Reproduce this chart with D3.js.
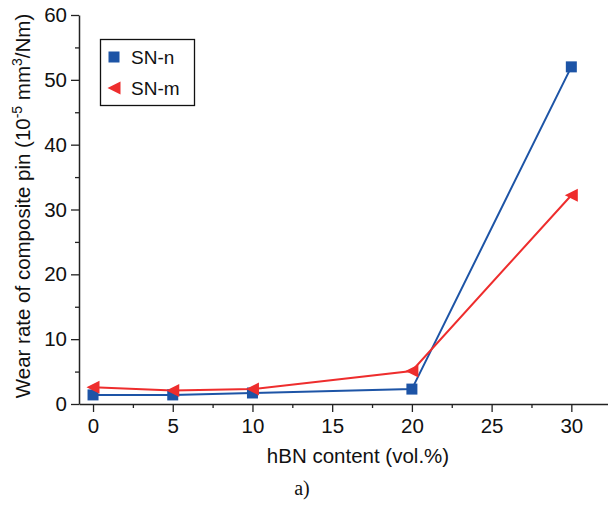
<!DOCTYPE html>
<html>
<head>
<meta charset="utf-8">
<script src="https://cdn.jsdelivr.net/npm/d3@7"></script>
<style>
  body { margin: 0; background: #fff; }
  svg { display: block; font-family: 'Liberation Sans', Arial, sans-serif; }
</style>
</head>
<body>
<div id="chart"></div>
<script>
// data
const hbnContent = [0, 5, 10, 20, 30];
const snN = [1.4, 1.4, 1.7, 2.3, 52.0];
const snM = [2.6, 2.1, 2.3, 5.1, 32.2];
const xTicks = [0, 5, 10, 15, 20, 25, 30];
const yTicks = [0, 10, 20, 30, 40, 50, 60];

const W = 608, H = 506;
const margin = {top: 15, left: 79, right: 0, bottom: 102};

const svg = d3.select('#chart').append('svg')
    .attr('width', W)
    .attr('height', H);

const x = d3.scaleLinear().domain([-0.88, 32.3]).range([margin.left, W - margin.right]);
const y = d3.scaleLinear().domain([0, 60]).range([H - margin.bottom, margin.top]);

const axisColor = '#222';

// minor ticks
const xMinor = d3.range(2.5, 32.5, 5);
const yMinor = d3.range(5, 60, 10);

const gx = svg.append('g')
    .attr('transform', 'translate(0,' + y(0) + ')');
gx.append('g')
    .call(d3.axisBottom(x).tickValues(xMinor).tickSize(4).tickFormat(''))
    .call((g) => g.select('.domain').remove());
gx.append('g')
    .call(d3.axisBottom(x).tickValues(xTicks).tickSize(8).tickSizeOuter(0).tickPadding(6));

const gy = svg.append('g')
    .attr('transform', 'translate(' + margin.left + ',0)');
gy.append('g')
    .call(d3.axisLeft(y).tickValues(yMinor).tickSize(4).tickFormat(''))
    .call((g) => g.select('.domain').remove());
gy.append('g')
    .call(d3.axisLeft(y).tickValues(yTicks).tickSize(8).tickSizeOuter(0).tickPadding(4));

svg.selectAll('.domain').attr('stroke', axisColor).attr('stroke-width', 1.5);
svg.selectAll('.tick line').attr('stroke', axisColor).attr('stroke-width', 1.3);
svg.selectAll('.tick text')
    .attr('fill', '#111')
    .style('font-size', '20.5px')
    .style('font-family', "'Liberation Sans', Arial, sans-serif");

// lines
const blue = '#1d54a6';
const red = '#ee2d2d';

const line = d3.line()
    .x((d) => x(d[0]))
    .y((d) => y(d[1]));

const seriesN = hbnContent.map((v, i) => [v, snN[i]]);
const seriesM = hbnContent.map((v, i) => [v, snM[i]]);

svg.append('path')
    .datum(seriesN)
    .attr('d', line)
    .attr('fill', 'none')
    .attr('stroke', blue)
    .attr('stroke-width', 2);

svg.append('path')
    .datum(seriesM)
    .attr('d', line)
    .attr('fill', 'none')
    .attr('stroke', red)
    .attr('stroke-width', 2);

const sq = 11;
svg.selectAll('.mk-n')
    .data(seriesN)
    .enter()
    .append('rect')
    .attr('x', (d) => x(d[0]) - sq / 2)
    .attr('y', (d) => y(d[1]) - sq / 2)
    .attr('width', sq)
    .attr('height', sq)
    .attr('fill', blue);

const tri = (cx, cy) => {
  const s = 6.5;
  return 'M' + (cx - s) + ',' + cy + 'L' + (cx + s) + ',' + (cy - s) + 'L' + (cx + s) + ',' + (cy + s) + 'Z';
};

svg.selectAll('.mk-m')
    .data(seriesM)
    .enter()
    .append('path')
    .attr('d', (d) => tri(x(d[0]), y(d[1])))
    .attr('fill', red);

// legend
const lg = svg.append('g');
lg.append('rect')
    .attr('x', 100.5)
    .attr('y', 39.5)
    .attr('width', 94)
    .attr('height', 66)
    .attr('fill', '#fff')
    .attr('stroke', '#111')
    .attr('stroke-width', 1.3);
lg.append('rect')
    .attr('x', 114 - sq / 2)
    .attr('y', 57 - sq / 2)
    .attr('width', sq)
    .attr('height', sq)
    .attr('fill', blue);
lg.append('path')
    .attr('d', tri(114, 88))
    .attr('fill', red);
lg.append('text')
    .attr('x', 131)
    .attr('y', 64)
    .attr('font-size', 19)
    .attr('fill', '#111')
    .text('SN-n');
lg.append('text')
    .attr('x', 131)
    .attr('y', 95)
    .attr('font-size', 19)
    .attr('fill', '#111')
    .text('SN-m');

// axis titles
svg.append('text')
    .attr('x', 358)
    .attr('y', 463)
    .attr('text-anchor', 'middle')
    .attr('font-size', 20.5)
    .attr('fill', '#111')
    .text('hBN content (vol.%)');

const yt = svg.append('text')
    .attr('transform', 'translate(30,' + 206 + ') rotate(-90)')
    .attr('text-anchor', 'middle')
    .attr('font-size', 20.5)
    .attr('fill', '#111');
yt.append('tspan').text('Wear rate of composite pin (10');
yt.append('tspan').attr('dy', -8).attr('font-size', 14).text('-5');
yt.append('tspan').attr('dy', 8).text(' mm');
yt.append('tspan').attr('dy', -8).attr('font-size', 14).text('3');
yt.append('tspan').attr('dy', 8).text('/Nm)');

svg.append('text')
    .attr('x', 302)
    .attr('y', 495)
    .attr('text-anchor', 'middle')
    .attr('font-size', 20)
    .attr('font-family', "'Liberation Serif', 'Times New Roman', serif")
    .attr('fill', '#111')
    .text('a)');
</script>
</body>
</html>
